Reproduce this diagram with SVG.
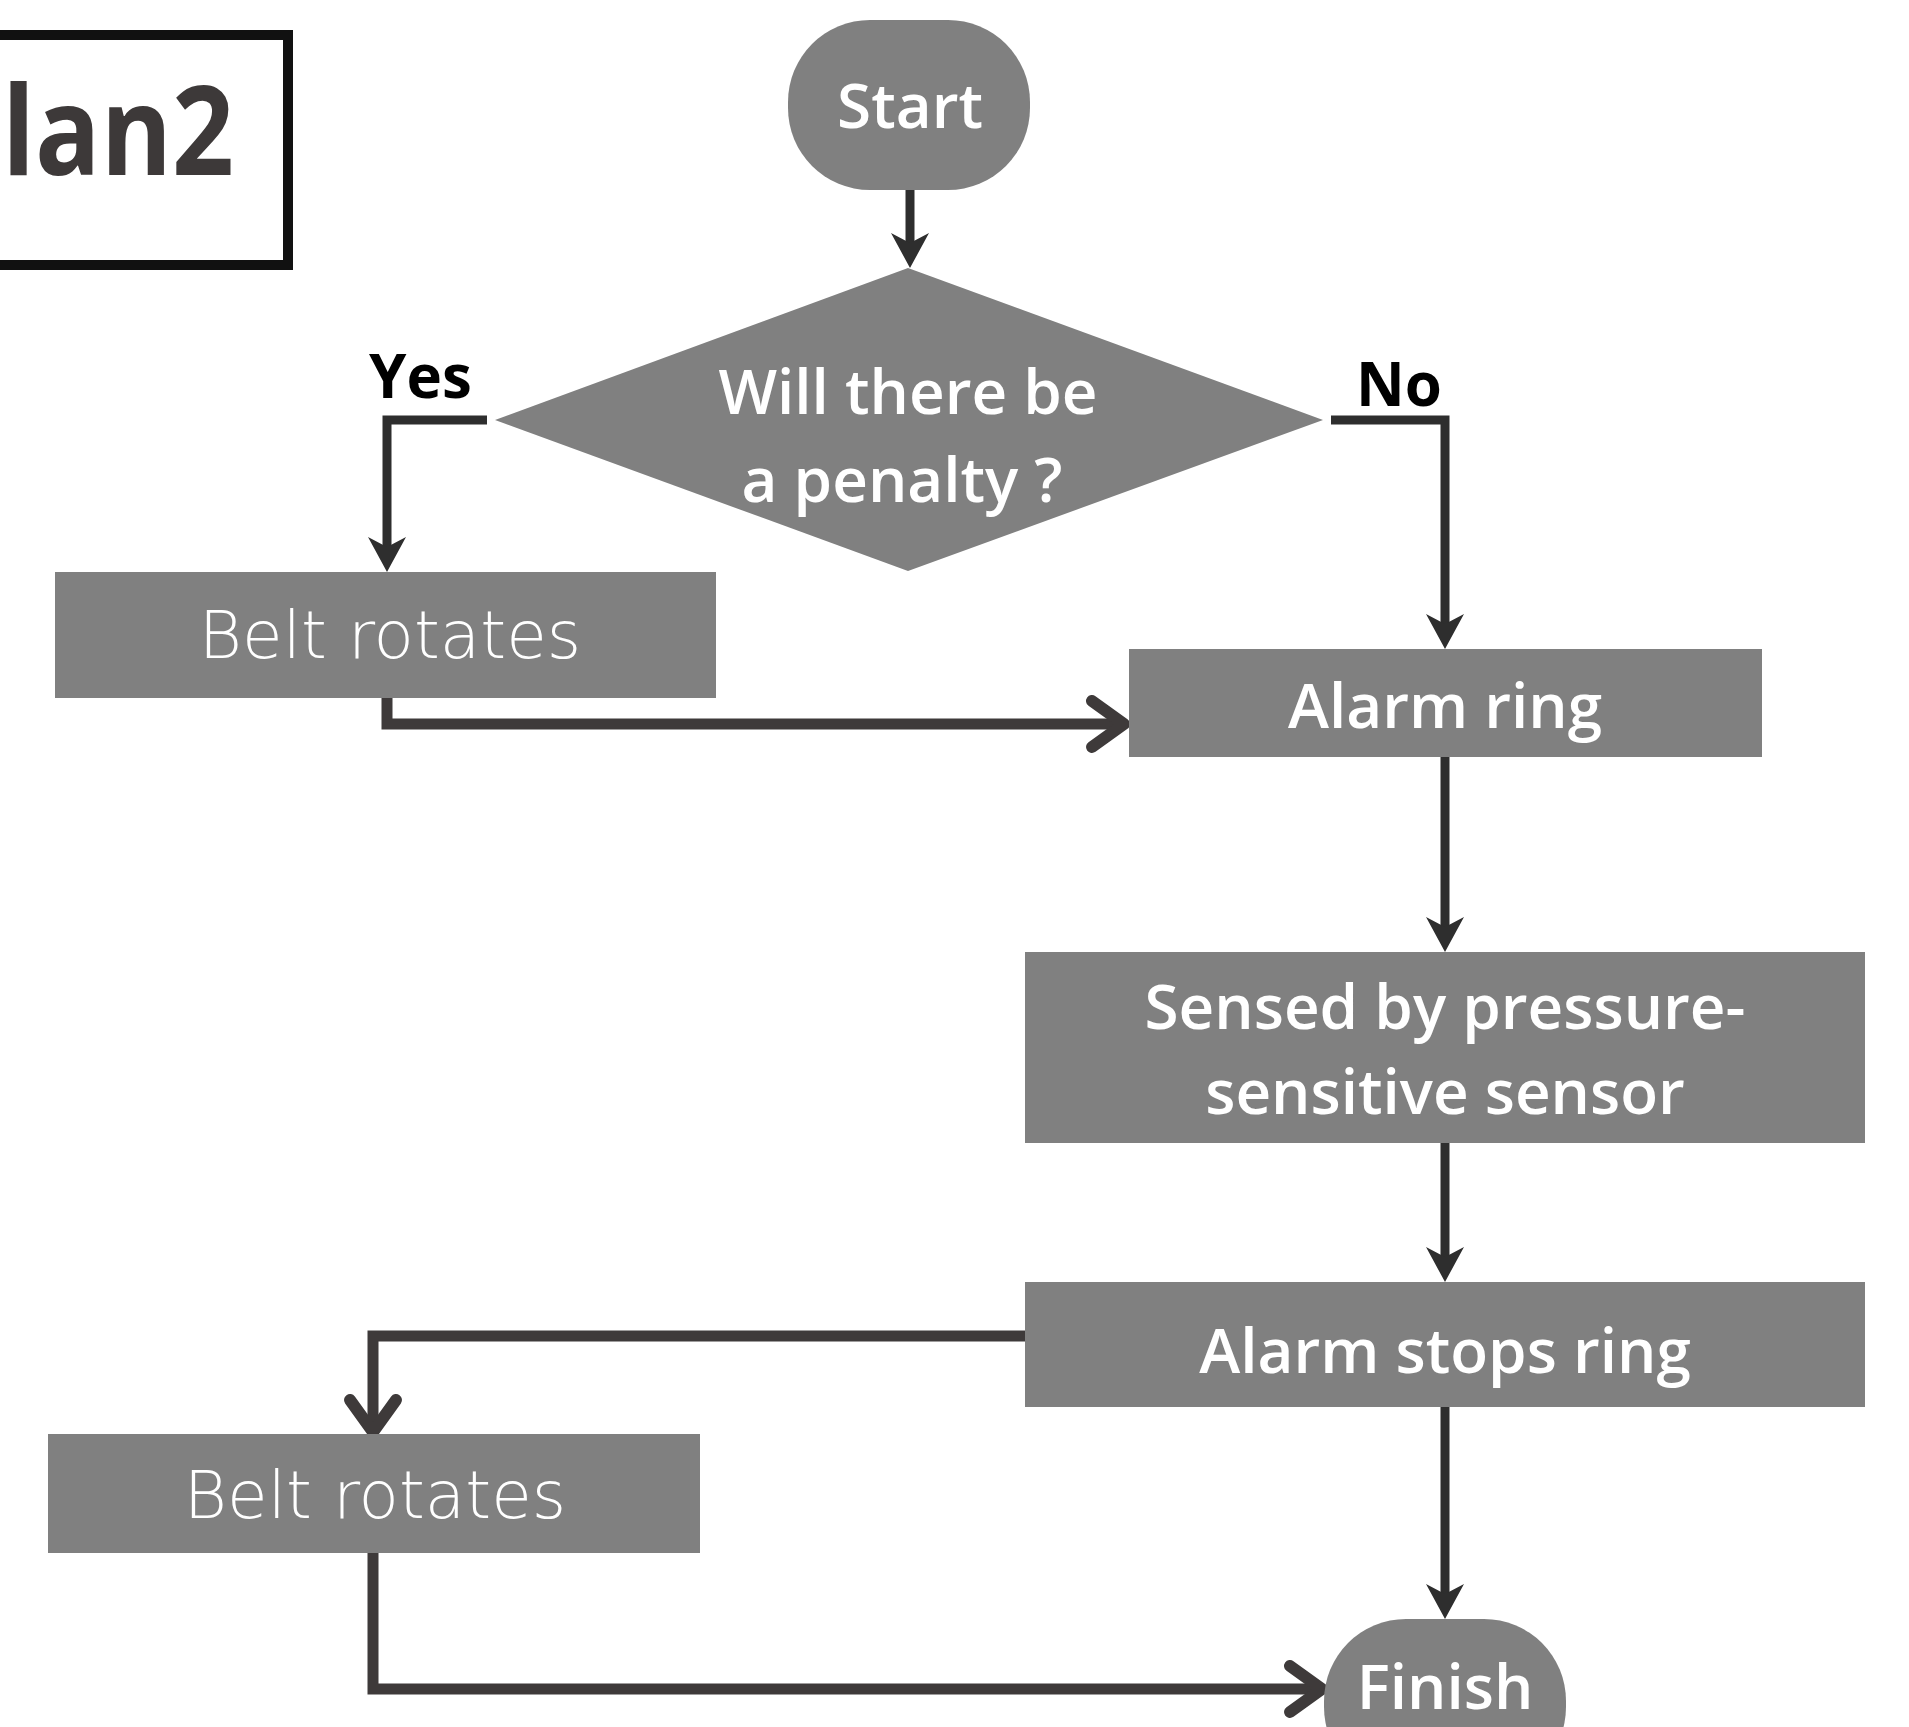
<svg xmlns="http://www.w3.org/2000/svg" width="1909" height="1727" viewBox="0 0 1909 1727">
<style>
  .node { fill: #808080; }
  .lbl { font-family: "Open Sans", "Noto Sans", sans-serif; font-weight: 600; font-size: 62px; fill: #ffffff; text-anchor: middle; }
  .thin { font-family: "DejaVu Sans", sans-serif; font-weight: 200; font-size: 66px; fill: #ffffff; text-anchor: middle; }
  .yn { font-family: "Open Sans", "Noto Sans", sans-serif; font-weight: 700; font-size: 60px; fill: #000000; }
  .c1 { fill: none; stroke: #2e2e2e; stroke-width: 9; }
  .c2 { fill: none; stroke: #3e3a3a; stroke-width: 11; }
</style>
<defs>
  <marker id="stealth" markerUnits="userSpaceOnUse" orient="auto" refX="0" refY="0" markerWidth="60" markerHeight="60" viewBox="-30 -30 60 60" overflow="visible">
    <path d="M22,0 L-13,-19 L-3,0 L-13,19 Z" fill="#2e2e2e"/>
  </marker>
  <marker id="chev" markerUnits="userSpaceOnUse" orient="auto" refX="0" refY="0" markerWidth="80" markerHeight="80" viewBox="-40 -40 80 80" overflow="visible">
    <path d="M-30,-23 L2,0 L-30,23" fill="none" stroke="#3e3a3a" stroke-width="12" stroke-linecap="round" stroke-linejoin="round"/>
  </marker>
</defs>
<rect width="1909" height="1727" fill="#ffffff"/>

<g id="title">
  <rect x="-20" y="35" width="308" height="230" fill="none" stroke="#111111" stroke-width="10"/>
  <text x="2" y="175" font-family="Open Sans, Noto Sans, sans-serif" font-weight="700" font-size="124" fill="#3d3939" textLength="232" lengthAdjust="spacingAndGlyphs">lan2</text>
</g>

<g id="connectors">
  <path class="c1" d="M910,190 L910,246" marker-end="url(#stealth)"/>
  <path class="c1" d="M487,420 L387,420 L387,550" marker-end="url(#stealth)"/>
  <path class="c1" d="M1331,420 L1445,420 L1445,627" marker-end="url(#stealth)"/>
  <path class="c1" d="M1445,757 L1445,930" marker-end="url(#stealth)"/>
  <path class="c1" d="M1445,1143 L1445,1260" marker-end="url(#stealth)"/>
  <path class="c1" d="M1445,1407 L1445,1597" marker-end="url(#stealth)"/>
  <path class="c2" d="M387,698 L387,724 L1122,724" marker-end="url(#chev)"/>
  <path class="c2" d="M1025,1336 L373,1336 L373,1430" marker-end="url(#chev)"/>
  <path class="c2" d="M373,1553 L373,1689 L1320,1689" marker-end="url(#chev)"/>
</g>

<g id="yes-label"><text class="yn" x="369" y="398">Yes</text></g>
<g id="no-label"><text class="yn" x="1356" y="406">No</text></g>

<g id="start">
  <rect class="node" x="788" y="20" width="242" height="170" rx="82" ry="82"/>
  <text class="lbl" x="910" y="128">Start</text>
</g>

<g id="decision">
  <polygon class="node" points="908,268 1323,420 908,571 495,420"/>
  <text class="lbl" x="908" y="414">Will there be</text>
  <text class="lbl" x="902" y="502">a penalty ?</text>
</g>

<g id="belt1">
  <rect class="node" x="55" y="572" width="661" height="126"/>
  <text class="thin" x="390" y="658">Belt rotates</text>
</g>

<g id="alarm-ring">
  <rect class="node" x="1129" y="649" width="633" height="108"/>
  <text class="lbl" x="1445" y="728">Alarm ring</text>
</g>

<g id="sensed">
  <rect class="node" x="1025" y="952" width="840" height="191"/>
  <text class="lbl" x="1445" y="1029">Sensed by pressure-</text>
  <text class="lbl" x="1445" y="1114">sensitive sensor</text>
</g>

<g id="alarm-stops">
  <rect class="node" x="1025" y="1282" width="840" height="125"/>
  <text class="lbl" x="1445" y="1373">Alarm stops ring</text>
</g>

<g id="belt2">
  <rect class="node" x="48" y="1434" width="652" height="119"/>
  <text class="thin" x="375" y="1518">Belt rotates</text>
</g>

<g id="finish">
  <rect class="node" x="1324" y="1619" width="242" height="170" rx="82" ry="82"/>
  <text class="lbl" x="1445" y="1709">Finish</text>
</g>
</svg>
